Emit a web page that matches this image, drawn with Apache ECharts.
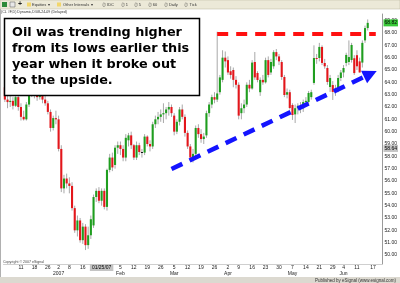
<!DOCTYPE html>
<html><head><meta charset="utf-8">
<script src="https://cdn.jsdelivr.net/npm/echarts@6/dist/echarts.min.js"></script>
<style>html,body{margin:0;padding:0;background:#fff}#c{width:400px;height:283px}</style>
</head><body><div id="c"></div>
<script>
// Trading days (categories), Dec 2006 - Jun 2007
const dates = [
'12/01/06','12/04/06','12/05/06','12/06/06','12/07/06','12/08/06','12/11/06','12/12/06','12/13/06','12/14/06','12/15/06','12/18/06','12/19/06','12/20/06','12/21/06','12/22/06','12/26/06','12/27/06','12/28/06','12/29/06',
'01/02/07','01/03/07','01/04/07','01/05/07','01/08/07','01/09/07','01/10/07','01/11/07','01/12/07','01/16/07','01/17/07','01/18/07','01/19/07','01/22/07','01/23/07','01/24/07','01/25/07','01/26/07','01/29/07','01/30/07','01/31/07',
'02/01/07','02/02/07','02/05/07','02/06/07','02/07/07','02/08/07','02/09/07','02/12/07','02/13/07','02/14/07','02/15/07','02/16/07','02/19/07','02/20/07','02/21/07','02/22/07','02/23/07','02/26/07','02/27/07','02/28/07',
'03/01/07','03/02/07','03/05/07','03/06/07','03/07/07','03/08/07','03/09/07','03/12/07','03/13/07','03/14/07','03/15/07','03/16/07','03/19/07','03/20/07','03/21/07','03/22/07','03/23/07','03/26/07','03/27/07','03/28/07','03/29/07','03/30/07',
'04/02/07','04/03/07','04/04/07','04/05/07','04/09/07','04/10/07','04/11/07','04/12/07','04/13/07','04/16/07','04/17/07','04/18/07','04/19/07','04/20/07','04/23/07','04/24/07','04/25/07','04/26/07','04/27/07','04/30/07',
'05/01/07','05/02/07','05/03/07','05/04/07','05/07/07','05/08/07','05/09/07','05/10/07','05/11/07','05/14/07','05/15/07','05/16/07','05/17/07','05/18/07','05/21/07','05/22/07','05/23/07','05/24/07','05/25/07','05/29/07','05/30/07','05/31/07',
'06/01/07','06/04/07','06/05/07','06/06/07','06/07/07','06/08/07','06/11/07','06/12/07','06/13/07','06/14/07','06/15/07','06/18/07','06/19/07','06/20/07','06/21/07','06/22/07'
];

const opens = [
63.6,62.6,62.4,62.5,62.1,62.8,62.0,61.2,61.0,62.2,63.3,63.4,63.0,62.8,63.2,62.6,62.3,61.6,60.3,61.1,
61.0,58.6,55.4,56.2,55.8,55.6,53.8,52.0,52.8,51.2,52.3,50.8,51.6,52.4,54.7,55.2,54.4,55.2,53.9,56.9,57.9,
57.3,58.7,58.9,58.6,57.9,59.3,59.7,58.9,57.9,58.9,58.35,58.3,59.6,59.0,58.8,60.6,61.0,61.2,61.4,61.5,
61.8,62.0,61.3,60.0,60.8,61.8,61.2,59.9,58.8,57.9,58.2,60.3,59.8,59.4,59.7,61.5,62.2,62.8,62.6,63.2,64.2,66.0,
65.8,64.9,65.0,64.2,63.8,61.5,61.9,62.2,63.8,63.5,65.65,64.76,63.2,64.2,64.0,65.8,64.8,65.3,66.45,66.1,
65.65,64.43,63.0,63.2,62.16,61.4,61.9,62.1,61.9,62.4,62.41,62.8,63.95,65.97,65.97,66.87,65.57,65.16,63.62,63.78,63.22,63.38,
64.35,64.8,65.57,65.65,65.81,65.95,66.2,65.7,65.6,67.4,68.4
];
const highs = [
64.0,63.0,62.9,62.8,63.0,62.9,62.3,61.7,62.4,63.4,63.7,63.7,63.5,63.5,63.3,62.9,62.5,61.8,61.3,61.7,
61.3,58.9,56.5,56.6,56.3,55.9,54.0,53.2,53.0,52.6,52.5,52.3,53.2,54.9,55.4,55.5,55.4,55.4,57.0,58.2,58.3,
58.9,59.2,59.2,58.9,59.8,59.9,60.0,59.0,59.2,59.1,58.6,59.8,59.7,59.3,60.8,61.3,61.6,61.8,62.3,62.0,
62.4,62.2,61.5,61.0,62.0,62.2,61.4,60.1,59.0,58.6,60.5,60.6,60.2,59.9,61.7,62.4,63.0,63.2,68.1,64.6,66.6,66.5,
66.1,65.3,65.2,64.5,64.0,62.3,62.6,64.0,64.2,65.8,66.46,64.9,64.4,64.6,66.0,66.1,65.9,66.6,66.7,66.3,
65.8,64.6,63.5,63.4,62.3,62.2,62.3,62.4,62.6,62.8,63.3,63.4,67.0,66.3,67.2,67.0,65.9,65.4,64.6,64.1,63.8,64.6,
65.0,65.4,66.4,67.4,67.2,66.2,66.6,66.0,67.4,68.6,69.1
];
const lows = [
62.4,61.9,62.0,61.8,62.0,61.7,60.9,60.9,60.9,62.0,62.8,62.7,62.5,62.6,62.3,62.1,61.4,60.0,60.1,60.6,
58.4,55.1,55.0,55.4,55.0,53.6,51.8,51.5,51.0,50.9,50.4,50.5,51.3,52.2,54.3,54.2,54.0,53.7,53.6,56.7,56.8,
57.0,58.2,58.1,57.6,57.6,58.8,58.6,57.7,57.7,58.1,57.9,58.1,58.8,58.4,58.6,60.3,60.6,60.8,60.7,61.0,
61.3,61.2,59.7,59.8,60.5,61.0,59.6,58.6,57.6,57.5,58.0,59.5,59.1,59.0,59.5,61.2,61.9,62.3,62.4,63.0,64.0,65.2,
64.6,64.3,63.6,63.5,61.0,61.0,61.5,62.0,63.2,63.4,64.2,64.0,62.9,63.8,63.9,64.4,64.6,65.1,65.8,65.4,
64.2,62.8,62.7,61.8,60.95,60.7,61.4,61.5,61.6,62.0,62.2,62.6,63.8,65.5,65.7,65.4,65.1,63.8,63.22,62.57,62.9,63.2,
64.1,64.4,65.3,65.4,65.6,64.6,65.0,64.8,65.2,67.2,68.2
];
const closes = [
62.6,62.4,62.5,62.1,62.8,62.0,61.2,61.0,62.2,63.3,63.4,63.0,62.8,63.2,62.6,62.3,61.6,60.3,61.1,61.0,
58.6,55.4,56.2,55.8,55.6,53.8,52.0,52.8,51.2,52.3,50.8,51.6,52.9,54.7,55.2,54.4,55.2,53.9,56.9,57.9,57.1,
58.7,58.9,58.6,57.9,59.5,59.7,58.9,57.9,58.9,58.35,58.35,59.6,59.0,58.8,60.6,61.0,61.2,61.4,61.5,61.8,
62.0,61.5,60.0,60.8,61.8,61.2,59.9,58.8,57.9,58.2,60.3,59.8,59.4,59.6,61.5,62.2,62.8,62.6,63.1,64.4,66.0,65.7,
64.8,64.6,64.2,63.8,61.3,61.9,62.2,63.8,63.5,65.6,64.4,64.19,64.2,64.0,65.8,64.6,65.65,66.45,66.1,65.7,
64.43,62.97,63.2,61.92,61.35,61.9,62.1,61.92,62.4,62.5,63.14,63.2,65.97,65.9,66.87,65.57,65.3,64.03,64.35,63.22,63.5,64.35,
64.8,65.16,66.22,66.05,67.03,64.75,65.3,64.8,67.2,68.4,68.82
];

// Axis tick labels
const priceTicks = [50,51,52,53,54,55,56,57,58,59,60,61,62,63,64,65,66,67,68,69];
const tickDates = ['12/11/06','12/18/06','12/26/06','01/02/07','01/08/07','01/16/07','02/05/07','02/12/07','02/19/07','02/26/07','03/05/07','03/12/07','03/19/07','03/26/07','04/02/07','04/09/07','04/16/07','04/23/07','04/30/07','05/07/07','05/14/07','05/21/07','05/29/07','06/04/07','06/11/07','06/19/07'];
const tickText = ['11','18','26','2','8','16','5','12','19','26','5','12','19','26','2','9','16','23','30','7','14','21','29','4','11','17'];
const monthDates = ['01/02/07','02/05/07','03/05/07','04/02/07','05/07/07','06/04/07'];
const monthText = ['2007','Feb','Mar','Apr','May','Jun'];

// Annotations (data space)
const resistanceLevel = 67.9, resistanceFrom = '03/27/07', resistanceTo = '06/20/07';
const trendFrom = ['03/02/07', 56.97], trendTo = ['06/18/07', 64.68];
const cursorDate = '01/25/07', cursorPrice = 58.64;
const lastPrice = closes[closes.length - 1];

const ohlc = closes.map((c, i) => [i, opens[i], c, lows[i], highs[i]]);
const UP = '#1f9e1f', DOWN = '#e3161b', WICK = '#a8a8a8';
const CLEAR = 'rgba(0,0,0,0)';

const chart = echarts.init(document.getElementById('c'), null, {renderer: 'canvas'});
const smallFont = 'Liberation Sans, Arial, sans-serif';

chart.setOption({
  animation: false,
  backgroundColor: '#ffffff',
  grid: {left: 3.5, right: 17.5, top: 14, bottom: 19, containLabel: false, outerBoundsMode: 'none'},
  xAxis: {
    type: 'category', data: dates, boundaryGap: true,
    axisLine: {show: true, lineStyle: {color: '#cfcfcf', width: 1}},
    axisTick: {show: false}, splitLine: {show: false},
    axisLabel: {
      interval: (i, v) => tickDates.includes(v),
      formatter: (v) => {
        const k = tickDates.indexOf(v);
        if (k < 0) return '';
        const m = monthDates.indexOf(v);
        return tickText[k] + (m >= 0 ? '\n' + monthText[m] : '');
      },
      fontSize: 5, lineHeight: 6, color: '#222', margin: 1, fontFamily: smallFont
    }
  },
  yAxis: {
    type: 'value', position: 'right', min: 49.27, max: 69.54, scale: true,
    axisLine: {show: true, lineStyle: {color: '#9a9a9a'}},
    axisTick: {show: false}, splitLine: {show: false},
    axisLabel: {customValues: priceTicks, formatter: v => v.toFixed(2), fontSize: 5, color: '#222', margin: 2, fontFamily: smallFont}
  },
  series: [{
    type: 'custom',
    data: ohlc,
    encode: {x: 0, y: [1, 2, 3, 4]},
    clip: false,
    renderItem: (params, api) => {
      const x = api.value(0), o = api.value(1), c = api.value(2), l = api.value(3), h = api.value(4);
      const pO = api.coord([x, o]), pC = api.coord([x, c]), pL = api.coord([x, l]), pH = api.coord([x, h]);
      const w = api.size([1, 0])[0] * 0.78;
      const top = Math.min(pO[1], pC[1]), bot = Math.max(pO[1], pC[1]);
      const color = c > o ? UP : (c < o ? DOWN : '#111');
      return {type: 'group', children: [
        {type: 'line', shape: {x1: pH[0], y1: pH[1], x2: pL[0], y2: pL[1]}, style: {stroke: WICK, lineWidth: 1}},
        {type: 'rect', shape: {x: pO[0] - w / 2, y: top, width: w, height: Math.max(bot - top, 1)}, style: {fill: color}}
      ]};
    },
    markLine: {
      silent: true, animation: false, z: 20,
      data: [
        [{coord: [resistanceFrom, resistanceLevel], symbol: 'none', lineStyle: {color: '#ff1010', width: 4, type: [11, 8]}, label: {show: false}},
         {coord: [resistanceTo, resistanceLevel], symbol: 'none'}],
        [{coord: trendFrom, symbol: 'none', lineStyle: {color: '#1414ff', width: 4.5, type: [12, 8]}, label: {show: false}},
         {coord: trendTo, symbol: 'triangle', symbolSize: 14}],
        {yAxis: lastPrice, symbol: 'none', lineStyle: {color: CLEAR, width: 0},
         label: {show: true, position: 'end', distance: 1, formatter: lastPrice.toFixed(2), fontSize: 5, color: '#000', backgroundColor: '#38c838', padding: [1, 1], fontFamily: smallFont}},
        {yAxis: cursorPrice, symbol: 'none', lineStyle: {color: CLEAR, width: 0},
         label: {show: true, position: 'end', distance: 1, formatter: cursorPrice.toFixed(2), fontSize: 5, color: '#000', backgroundColor: '#c4c4c4', padding: [1, 1], fontFamily: smallFont}},
        {xAxis: cursorDate, symbol: 'none', lineStyle: {color: CLEAR, width: 0},
         label: {show: true, position: 'start', distance: 0, formatter: cursorDate, fontSize: 5, color: '#000', backgroundColor: '#c4c4c4', padding: [1, 2], fontFamily: smallFont}}
      ]
    }
  }],
  graphic: [
    // toolbar
    {type: 'rect', z: 100, shape: {x: 0, y: 0, width: 400, height: 9}, style: {fill: '#ece9d8', stroke: '#b8b49c', lineWidth: 0.5}},
    {type: 'rect', z: 101, shape: {x: 2, y: 2, width: 5, height: 5}, style: {fill: '#2e8b3a'}},
    {type: 'rect', z: 101, shape: {x: 10, y: 2, width: 5, height: 5}, style: {fill: '#e8e8e8', stroke: '#555', lineWidth: 0.5}},
    {type: 'text', z: 101, x: 18, y: 1, style: {text: '+', font: 'bold 7px sans-serif', fill: '#222'}},
    {type: 'rect', z: 101, shape: {x: 27, y: 2.5, width: 4, height: 4}, style: {fill: '#f2d66b'}},
    {type: 'text', z: 101, x: 32, y: 2.5, style: {text: 'Equities  \u25BE', font: '4px ' + smallFont, fill: '#333'}},
    {type: 'rect', z: 101, shape: {x: 57, y: 2.5, width: 4, height: 4}, style: {fill: '#f2d66b'}},
    {type: 'text', z: 101, x: 63, y: 2.5, style: {text: 'Other Intervals  \u25BE', font: '4px ' + smallFont, fill: '#333'}},
    {type: 'text', z: 101, x: 102, y: 2.5, style: {text: '\u24C9 IDC      \u24C9 1     \u24C9 5      \u24C9 60      \u24C9 Daily      \u24C9 Tick', font: '4px ' + smallFont, fill: '#333'}},
    // symbol line
    {type: 'text', z: 101, x: 1, y: 10, style: {text: '(CL #F,D) Dynamic,D/08-24-09 (Delayed)', font: '3.6px ' + smallFont, fill: '#333'}},
    // frame
    {type: 'line', z: 100, shape: {x1: 0.5, y1: 9, x2: 0.5, y2: 277}, style: {stroke: '#b0b0b0', lineWidth: 1}},
    // copyright
    {type: 'text', z: 101, x: 3, y: 260, style: {text: 'Copyright \u00A9 2007 eSignal', font: '3.6px ' + smallFont, fill: '#444'}},
    // bottom strip
    {type: 'rect', z: 100, shape: {x: 0, y: 277, width: 400, height: 6}, style: {fill: '#dcd9d0'}},
    {type: 'text', z: 101, x: 396, y: 278, style: {text: 'Published by eSignal (www.esignal.com)', font: '4.5px ' + smallFont, fill: '#333', align: 'right'}},
    // annotation box
    {type: 'rect', z: 110, shape: {x: 4.5, y: 18.5, width: 195, height: 77}, style: {fill: '#ffffff', stroke: '#000000', lineWidth: 1.5}},
    {type: 'text', z: 111, x: 12, y: 25, style: {text: 'Oil was trending higher\nfrom its lows earlier this\nyear when it broke out\nto the upside.', font: 'bold 12.8px "DejaVu Sans"', lineHeight: 16, fill: '#000'}}
  ]
});
</script>
</body></html>
